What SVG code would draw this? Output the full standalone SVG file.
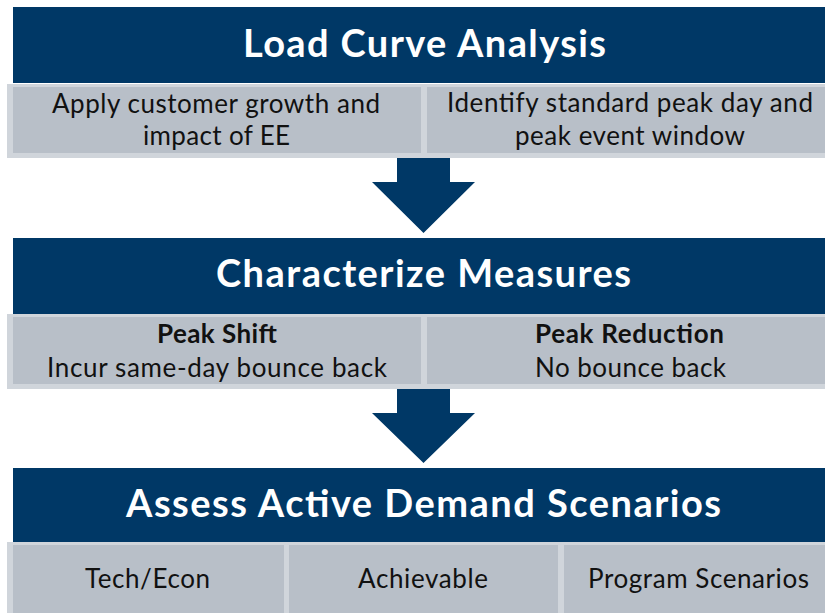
<svg xmlns="http://www.w3.org/2000/svg" width="825" height="613" viewBox="0 0 825 613">
  <style>
    .hdr { fill: #003866; }
    .band { fill: #d0d5db; }
    .cell { fill: #b8bfc8; }
    .title { font-family: "Lato", "Liberation Sans", sans-serif; font-weight: bold; font-size: 38px; fill: #ffffff; }
    .body { font-family: "Lato", "Liberation Sans", sans-serif; font-size: 26px; fill: #111111; }
    .bold { font-weight: bold; }
    .arrow { fill: #003866; }
  </style>
  <rect width="825" height="613" fill="#ffffff"/>

  <g id="load-curve-analysis">
    <rect class="hdr" x="13" y="7" width="812" height="76"/>
    <text class="title" x="243" y="57" textLength="363">Load Curve Analysis</text>
  </g>
  <g id="load-curve-details">
    <rect class="band" x="7" y="84" width="818" height="74"/>
    <rect class="cell" x="13" y="87" width="408" height="66"/>
    <rect class="cell" x="427" y="87" width="398" height="66"/>
    <text class="body" x="52" y="113" textLength="328">Apply customer growth and</text>
    <text class="body" x="143" y="145" textLength="147">impact of EE</text>
    <text class="body" x="447" y="112" textLength="366">Identify standard peak day and</text>
    <text class="body" x="515" y="145" textLength="230">peak event window</text>
  </g>

  <g id="characterize-measures">
    <rect class="hdr" x="13" y="238" width="812" height="76"/>
    <text class="title" x="216" y="287" textLength="415">Characterize Measures</text>
  </g>
  <g id="measure-details">
    <rect class="band" x="7" y="314" width="818" height="75"/>
    <rect class="cell" x="13" y="317" width="408" height="67"/>
    <rect class="cell" x="427" y="317" width="398" height="67"/>
    <text class="body bold" x="157" y="343" textLength="120">Peak Shift</text>
    <text class="body" x="47" y="377" textLength="340">Incur same-day bounce back</text>
    <text class="body bold" x="535" y="343" textLength="189">Peak Reduction</text>
    <text class="body" x="535" y="377" textLength="191">No bounce back</text>
  </g>

  <g id="assess-active-demand-scenarios">
    <rect class="hdr" x="13" y="468" width="812" height="74"/>
    <text class="title" x="126" y="517" textLength="595">Assess Active Demand Scenarios</text>
  </g>
  <g id="scenario-details">
    <rect class="band" x="7" y="542" width="818" height="71"/>
    <rect class="cell" x="13" y="545" width="271" height="68"/>
    <rect class="cell" x="289" y="545" width="269" height="68"/>
    <rect class="cell" x="564" y="545" width="261" height="68"/>
    <text class="body" x="85" y="588" textLength="125">Tech/Econ</text>
    <text class="body" x="358" y="588" textLength="130">Achievable</text>
    <text class="body" x="588" y="588" textLength="221">Program Scenarios</text>
  </g>

  <g id="connectors">
    <polygon class="arrow" points="397,158 450,158 450,182 475,182 423.5,233 372,182 397,182"/>
    <polygon class="arrow" points="397,389 450,389 450,413 475,413 423.5,463 372,413 397,413"/>
  </g>
</svg>
